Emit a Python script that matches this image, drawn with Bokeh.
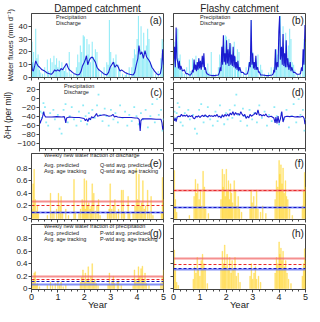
import math
from bokeh.plotting import figure
from bokeh.layouts import column, row
from bokeh.models import Range1d, FixedTicker, Legend, LegendItem, Label
from bokeh.embed import file_html
from bokeh.resources import INLINE

FONT = "Liberation Sans"
AX = "#444444"
TXT = "#222222"
P_COL = "#45DDF2"
P_PT = "#6FE6F5"
Q_COL = "#1B1BD0"
YEL = "#FFD21F"
RED_S = "#F26A6A"
RED_D = "#E8282B"
BLUE_S = "#5A6CF5"
BLUE_D = "#1515C8"

# ---------------- data ----------------
year_ticks = [0, 1, 2, 3, 4, 5]
flux_ticks = [0, 10, 20, 30, 40]
iso_ticks = [-100, -80, -60, -40, -20, 0, 20]
frac_ticks = [0, 0.2, 0.4, 0.6, 0.8]

precip = [(0.02, 28), (0.05, 12), (0.08, 20), (0.12, 8), (0.16, 38), (0.20, 15), (0.25, 18), (0.30, 6),
          (0.35, 4), (0.42, 3), (0.50, 8), (0.60, 14), (0.65, 5), (0.72, 15), (0.78, 12), (0.85, 17),
          (0.90, 10), (0.95, 15), (1.00, 8), (1.05, 13), (1.10, 6), (1.15, 12), (1.20, 8), (1.25, 5),
          (1.30, 11), (1.35, 4), (1.43, 20), (1.50, 3), (1.60, 3), (1.70, 8), (1.75, 18), (1.80, 12),
          (1.85, 25), (1.90, 20), (1.96, 33), (2.00, 32), (2.05, 14), (2.10, 30), (2.14, 18), (2.18, 26),
          (2.23, 12), (2.30, 28), (2.35, 16), (2.42, 22), (2.45, 10), (2.48, 20), (2.55, 6), (2.65, 4),
          (2.75, 8), (2.85, 12), (2.90, 10), (2.95, 45), (3.00, 20), (3.05, 8), (3.10, 15), (3.15, 12),
          (3.20, 18), (3.30, 10), (3.35, 6), (3.45, 3), (3.55, 2), (3.60, 4), (3.70, 8), (3.80, 8),
          (3.85, 15), (3.90, 22), (3.95, 18), (4.00, 30), (4.05, 48), (4.10, 22), (4.15, 40), (4.20, 18),
          (4.25, 35), (4.30, 15), (4.35, 25), (4.40, 38), (4.45, 30), (4.50, 12), (4.55, 10), (4.60, 6),
          (4.70, 3), (4.80, 5), (4.90, 15), (4.95, 30), (4.99, 28)]

q_damped = [(0.00, 12), (0.03, 6), (0.07, 5), (0.12, 9), (0.16, 13), (0.20, 11), (0.25, 9), (0.31, 8),
            (0.40, 6), (0.50, 5), (0.60, 3.5), (0.68, 3), (0.75, 2.5), (0.82, 4), (0.88, 6), (0.93, 5),
            (1.00, 6), (1.06, 5), (1.12, 7), (1.18, 6), (1.24, 8), (1.30, 10), (1.33, 11), (1.38, 8),
            (1.43, 6), (1.50, 5), (1.55, 4), (1.62, 3), (1.68, 2.5), (1.75, 2), (1.82, 2.5), (1.88, 5),
            (1.93, 9), (2.00, 12), (2.04, 14), (2.08, 17), (2.13, 10), (2.18, 13), (2.23, 15), (2.30, 16),
            (2.36, 14), (2.42, 12), (2.48, 8), (2.55, 6), (2.62, 5), (2.73, 3), (2.85, 2), (2.92, 4),
            (2.98, 8), (3.04, 10), (3.10, 12), (3.16, 8), (3.23, 10), (3.29, 8), (3.35, 5), (3.41, 6),
            (3.54, 4), (3.65, 3), (3.72, 2.5), (3.85, 2), (3.91, 4), (3.97, 10), (4.03, 15), (4.07, 25),
            (4.12, 18), (4.18, 20), (4.24, 15), (4.30, 21), (4.36, 16), (4.43, 14), (4.49, 12), (4.56, 8),
            (4.66, 5), (4.74, 3), (4.82, 2), (4.88, 3), (4.93, 8), (4.97, 22), (5.00, 10)]

q_flashy = [(0.00, 10), (0.04, 24), (0.07, 8), (0.10, 39), (0.13, 15), (0.16, 12), (0.19, 7), (0.22, 13),
            (0.25, 6), (0.28, 9), (0.34, 5), (0.41, 6), (0.47, 3), (0.53, 3), (0.60, 2), (0.65, 2),
            (0.70, 4), (0.72, 6), (0.75, 4), (0.78, 14), (0.81, 6), (0.84, 10), (0.87, 5), (0.90, 12),
            (0.93, 6), (0.96, 15), (0.99, 7), (1.02, 13), (1.05, 6), (1.09, 17), (1.12, 8), (1.15, 19),
            (1.18, 6), (1.21, 8), (1.24, 4), (1.27, 3), (1.35, 2), (1.45, 1.5), (1.58, 1.5), (1.70, 2),
            (1.74, 4), (1.77, 8), (1.80, 5), (1.83, 24), (1.86, 10), (1.89, 33), (1.92, 12), (1.95, 19),
            (1.98, 10), (2.01, 29), (2.04, 11), (2.07, 22), (2.10, 9), (2.14, 27), (2.17, 10), (2.20, 18),
            (2.23, 9), (2.26, 24), (2.29, 8), (2.32, 17), (2.35, 7), (2.38, 12), (2.41, 6), (2.44, 13),
            (2.47, 5), (2.51, 8), (2.56, 4), (2.63, 4), (2.70, 2.5), (2.75, 2.5), (2.80, 3), (2.84, 6),
            (2.88, 12), (2.91, 8), (2.94, 45), (2.97, 10), (3.00, 19), (3.03, 7), (3.06, 12), (3.09, 6),
            (3.12, 17), (3.15, 6), (3.19, 8), (3.22, 4), (3.25, 4.5), (3.30, 2), (3.37, 2), (3.50, 1.5),
            (3.62, 1.5), (3.74, 2), (3.78, 3), (3.80, 6), (3.83, 4), (3.86, 22), (3.89, 6), (3.93, 12),
            (3.96, 8), (3.99, 36), (4.02, 48), (4.05, 14), (4.09, 24), (4.12, 10), (4.15, 34), (4.18, 9),
            (4.21, 19), (4.24, 8), (4.27, 29), (4.30, 8), (4.33, 15), (4.37, 6), (4.42, 12), (4.45, 5),
            (4.48, 8), (4.54, 4), (4.60, 4), (4.68, 2.5), (4.75, 2.5), (4.81, 3), (4.85, 8), (4.88, 5),
            (4.91, 22), (4.94, 10), (4.98, 41), (5.00, 30)]

iso_precip = [(0.04, -30), (0.09, -44), (0.12, -33), (0.16, -11), (0.22, -20), (0.27, -54), (0.35, -61),
              (0.43, -33), (0.56, -26), (0.62, -47), (0.74, -37), (0.81, -68), (0.89, -79), (0.97, -26),
              (1.05, -13), (1.14, -54), (1.22, -40), (1.30, -20), (1.39, -47), (1.49, -61), (1.59, -30),
              (1.67, -51), (1.76, -16), (1.86, -40), (1.92, -58), (1.99, -33), (2.05, -47), (2.13, -26),
              (2.23, -44), (2.32, -16), (2.38, 8), (2.44, -37), (2.54, -51), (2.63, -23), (2.70, -40),
              (2.79, -61), (2.88, -26), (2.98, -47), (3.06, -33), (3.16, -54), (3.25, -16), (3.35, -44),
              (3.45, -30), (3.54, -61), (3.62, -37), (3.72, -51), (3.82, -20), (3.91, -40), (4.00, -58),
              (4.09, -33), (4.18, -47), (4.28, -26), (4.37, -65), (4.47, -40), (4.55, -13), (4.65, -54),
              (4.74, -2), (4.81, -37), (4.90, -26), (4.96, -72), (5.00, -47)]

iso_q_damped = [(0.00, -48), (0.03, -56), (0.06, -50), (0.10, -45), (0.13, -40), (0.17, -30), (0.20, -38),
                (0.25, -42), (0.35, -42), (0.50, -42), (0.70, -41), (0.90, -42), (1.00, -41), (1.03, -47),
                (1.06, -55), (1.09, -44), (1.20, -42), (1.40, -43), (1.60, -43), (1.80, -45), (1.85, -50),
                (1.90, -46), (1.95, -52), (2.00, -44), (2.05, -48), (2.10, -41), (2.15, -44), (2.22, -41),
                (2.30, -34), (2.34, -40), (2.40, -39), (2.50, -38), (2.60, -37), (2.70, -38), (2.80, -40),
                (2.90, -39), (2.97, -36), (3.02, -42), (3.08, -40), (3.15, -42), (3.30, -43), (3.50, -43),
                (3.70, -43), (3.85, -44), (3.95, -44), (4.02, -47), (4.06, -73), (4.09, -50), (4.15, -46),
                (4.30, -46), (4.50, -46), (4.70, -47), (4.90, -47), (4.94, -55), (4.97, -70), (5.00, -62)]

iso_q_flashy = [(0.00, -40), (0.03, -50), (0.07, -45), (0.10, -52), (0.14, -42), (0.20, -40), (0.25, -41),
                (0.30, -36), (0.35, -40), (0.40, -38), (0.45, -40), (0.50, -37), (0.55, -42), (0.60, -39),
                (0.65, -41), (0.70, -38), (0.75, -44), (0.80, -46), (0.85, -40), (0.90, -42), (0.95, -39),
                (1.00, -43), (1.05, -40), (1.10, -38), (1.15, -41), (1.20, -37), (1.25, -40), (1.30, -42),
                (1.35, -38), (1.40, -40), (1.45, -39), (1.50, -41), (1.55, -38), (1.60, -40), (1.65, -36),
                (1.70, -42), (1.75, -40), (1.80, -44), (1.85, -37), (1.90, -42), (1.95, -36), (2.00, -40),
                (2.05, -35), (2.10, -40), (2.15, -33), (2.20, -37), (2.25, -30), (2.30, -38), (2.35, -32),
                (2.40, -36), (2.45, -34), (2.50, -38), (2.55, -30), (2.60, -36), (2.65, -40), (2.70, -36),
                (2.75, -45), (2.80, -40), (2.85, -44), (2.90, -36), (2.95, -40), (3.00, -38), (3.05, -36),
                (3.10, -32), (3.15, -37), (3.20, -26), (3.25, -38), (3.30, -36), (3.35, -40), (3.40, -37),
                (3.45, -39), (3.50, -35), (3.55, -40), (3.60, -42), (3.70, -40), (3.80, -44), (3.85, -55),
                (3.88, -42), (3.92, -56), (3.96, -40), (4.00, -55), (4.05, -46), (4.10, -30), (4.15, -53),
                (4.20, -42), (4.30, -40), (4.40, -41), (4.50, -40), (4.60, -42), (4.70, -41), (4.80, -42),
                (4.90, -40), (4.95, -45), (4.98, -58), (5.00, -52)]

nwf_q_damped = [(0.02, 0.15), (0.06, 0.55), (0.10, 0.78), (0.14, 0.30), (0.18, 0.12), (0.22, 0.20), (0.26, 0.08),
                (0.60, 0.05), (0.72, 0.40), (0.78, 0.10), (0.85, 0.12), (0.95, 0.15), (1.02, 0.40), (1.08, 0.20),
                (1.12, 0.35), (1.18, 0.10), (1.30, 0.15), (1.40, 0.05), (1.61, 0.62), (1.66, 0.10), (1.80, 0.08),
                (1.86, 0.15), (1.92, 0.30), (1.96, 0.20), (2.00, 0.63), (2.04, 0.15), (2.08, 0.60), (2.12, 0.20),
                (2.17, 0.25), (2.22, 0.15), (2.26, 0.20), (2.30, 0.55), (2.36, 0.40), (2.42, 0.12), (2.48, 0.20),
                (2.54, 0.30), (2.60, 0.05), (2.88, 0.10), (2.94, 0.15), (2.98, 0.55), (3.04, 0.15), (3.10, 0.20),
                (3.16, 0.30), (3.22, 0.10), (3.30, 0.15), (3.41, 0.45), (3.47, 0.45), (3.52, 0.10), (3.66, 0.35),
                (3.72, 0.08), (3.85, 0.10), (3.92, 0.20), (3.97, 0.80), (4.02, 0.30), (4.07, 0.70), (4.12, 0.20),
                (4.17, 0.25), (4.22, 0.60), (4.27, 0.15), (4.32, 0.20), (4.40, 0.45), (4.46, 0.10), (4.53, 0.35),
                (4.60, 0.05), (4.92, 0.10), (4.96, 0.65), (4.99, 0.30)]

nwf_q_flashy = [(0.03, 0.76), (0.07, 0.30), (0.12, 0.10), (0.60, 0.05), (0.78, 0.35), (0.83, 0.62), (0.87, 0.40),
                (0.92, 0.55), (0.97, 0.30), (1.02, 0.45), (1.07, 0.20), (1.12, 0.75), (1.17, 0.50), (1.22, 0.15),
                (1.32, 0.08), (1.80, 0.30), (1.85, 0.78), (1.88, 0.50), (1.92, 0.70), (1.96, 0.35), (2.00, 0.78),
                (2.04, 0.45), (2.08, 0.60), (2.12, 0.30), (2.16, 0.55), (2.20, 0.40), (2.24, 0.25), (2.30, 0.60),
                (2.35, 0.45), (2.40, 0.20), (2.45, 0.35), (2.50, 0.15), (2.58, 0.10), (2.90, 0.15), (2.94, 0.45),
                (2.98, 0.25), (3.04, 0.35), (3.10, 0.20), (3.15, 0.45), (3.20, 0.15), (3.30, 0.10), (3.38, 0.20),
                (3.50, 0.08), (3.85, 0.30), (3.90, 0.60), (3.95, 0.50), (4.00, 0.92), (4.03, 0.70), (4.07, 0.85),
                (4.11, 0.55), (4.15, 0.80), (4.19, 0.40), (4.24, 0.60), (4.28, 0.35), (4.33, 0.30), (4.40, 0.15),
                (4.50, 0.05), (4.88, 0.20), (4.93, 0.45), (4.97, 0.73), (5.00, 0.50)]

nwf_p_damped = [(0.02, 0.10), (0.06, 0.15), (0.10, 0.25), (0.14, 0.27), (0.18, 0.05), (0.22, 0.08), (0.30, 0.03),
                (0.60, 0.05), (0.72, 0.10), (0.80, 0.05), (0.90, 0.08), (1.00, 0.12), (1.06, 0.05), (1.12, 0.10),
                (1.20, 0.03), (1.30, 0.05), (1.85, 0.10), (1.90, 0.18), (1.95, 0.30), (2.00, 0.10), (2.04, 0.25),
                (2.10, 0.15), (2.15, 0.35), (2.20, 0.10), (2.25, 0.20), (2.30, 0.40), (2.35, 0.10), (2.40, 0.15),
                (2.45, 0.08), (2.52, 0.05), (2.90, 0.06), (2.95, 0.25), (3.00, 0.05), (3.05, 0.10), (3.10, 0.20),
                (3.15, 0.08), (3.25, 0.10), (3.30, 0.12), (3.40, 0.05), (3.85, 0.05), (3.90, 0.30), (3.95, 0.15),
                (4.00, 0.10), (4.05, 0.35), (4.10, 0.20), (4.15, 0.32), (4.20, 0.36), (4.25, 0.15), (4.30, 0.25),
                (4.35, 0.08), (4.45, 0.05), (4.90, 0.08), (4.95, 0.20), (5.00, 0.30)]

nwf_p_flashy = [(0.03, 0.62), (0.07, 0.30), (0.12, 0.10), (0.18, 0.05), (0.75, 0.15), (0.80, 0.35), (0.85, 0.25),
                (0.90, 0.50), (0.95, 0.30), (1.00, 0.20), (1.05, 0.45), (1.10, 0.55), (1.15, 0.40), (1.20, 0.30),
                (1.28, 0.08), (1.80, 0.30), (1.85, 0.60), (1.90, 0.40), (1.94, 0.70), (1.98, 0.35), (2.03, 0.55),
                (2.08, 0.30), (2.13, 0.50), (2.18, 0.25), (2.22, 0.45), (2.28, 0.30), (2.33, 0.50), (2.38, 0.20),
                (2.45, 0.25), (2.52, 0.10), (2.90, 0.20), (2.95, 0.40), (3.00, 0.15), (3.05, 0.25), (3.10, 0.35),
                (3.15, 0.15), (3.22, 0.20), (3.30, 0.10), (3.85, 0.25), (3.90, 0.50), (3.95, 0.40), (4.00, 0.75),
                (4.03, 0.55), (4.07, 0.65), (4.11, 0.45), (4.15, 0.60), (4.20, 0.35), (4.25, 0.45), (4.30, 0.25),
                (4.36, 0.15), (4.45, 0.08), (4.88, 0.20), (4.93, 0.40), (4.97, 0.64), (5.00, 0.45)]

# averages: [damped, flashy]
q_avg_pred = [0.10, 0.18]
q_avg_age = [0.10, 0.17]
q_wtd_pred = [0.27, 0.45]
q_wtd_age = [0.21, 0.445]
p_avg_pred = [0.07, 0.31]
p_avg_age = [0.11, 0.33]
p_wtd_pred = [0.20, 0.49]
p_wtd_age = [0.15, 0.39]


def cols(pairs):
    return [a for a, _ in pairs], [b for _, b in pairs]


# ---------------- layout helpers ----------------
FW = 132
FH = 66


def make_fig(col, row_i, yr, yticks, title=None):
    left = col == 0
    if row_i == 0:
        h, bt, bb = FH + 15, 11, 4
    elif row_i == 3:
        h, bt, bb = FH + 23, 1, 22
    else:
        h, bt, bb = FH + 5, 1, 4
    bl, br = (31, 4) if left else (6, 6)
    kw = {}
    if title:
        kw["title"] = title
    p = figure(width=FW + bl + br, height=h, x_range=Range1d(0, 5), y_range=Range1d(*yr),
               output_backend="svg", toolbar_location=None,
               min_border_left=bl, min_border_right=br, min_border_top=bt, min_border_bottom=bb, **kw)
    if title:
        p.title.text_font = FONT
        p.title.text_font_size = "10px"
        p.title.text_font_style = "normal"
        p.title.text_color = TXT
        p.title.align = "center"
        p.title.standoff = 0
    p.border_fill_color = None
    p.outline_line_color = AX
    p.outline_line_width = 1
    p.grid.visible = False
    for ax in list(p.xaxis) + list(p.yaxis):
        ax.axis_line_color = AX
        ax.major_tick_line_color = AX
        ax.minor_tick_line_color = AX
        ax.major_tick_in = 0
        ax.major_tick_out = 3
        ax.minor_tick_in = 0
        ax.minor_tick_out = 2
        ax.major_label_text_font = FONT
        ax.major_label_text_font_size = "8px"
        ax.major_label_text_color = TXT
        ax.major_label_standoff = 1
        ax.axis_label_text_font = FONT
        ax.axis_label_text_font_style = "normal"
        ax.axis_label_text_color = TXT
        ax.axis_label_standoff = 1
    p.xaxis.ticker = FixedTicker(ticks=year_ticks, minor_ticks=[i / 4 for i in range(21) if i % 4])
    p.yaxis.ticker = FixedTicker(ticks=yticks)
    if not left:
        p.yaxis.major_label_text_color = None
    if row_i < 3:
        p.xaxis.major_label_text_color = None
    else:
        p.xaxis.major_label_text_font_size = "9px"
        p.xaxis.axis_label = "Year"
        p.xaxis.axis_label_text_font_size = "9.5px"
        p.xaxis.axis_label_standoff = -4
    return p


def panel_letter(p, txt, dy=9):
    p.add_layout(Label(x=4.94, y=FH - dy, x_units="data", y_units="screen", text=txt,
                       text_font=FONT, text_font_size="10px", text_color=TXT,
                       text_align="right", text_baseline="middle"))


def make_legend(items, x, y, gw=8, gh=4, lh=6, standoff=2):
    # (x, y): bottom-left corner of the legend, measured from the frame's bottom-left
    return Legend(items=items, location=(x, y), label_text_font=FONT, label_text_font_size="5.5px",
                  label_text_color=TXT, label_height=lh, label_width=10, glyph_width=gw, glyph_height=gh,
                  label_standoff=standoff, spacing=0, padding=0, margin=0,
                  border_line_alpha=0, background_fill_alpha=0)


def fnew_label(p, lead):
    pieces = [(lead, "6px", -27.5, 19.5), ("F", "8.5px", -24, 24.5),
              ("new", "5.5px", -20.5, 30), ("(-)", "8px", -24, 41.5)]
    for txt, fs, x, y in pieces:
        p.add_layout(Label(x=x, y=y, x_units="screen", y_units="screen", text=txt, angle=math.pi / 2,
                           text_font=FONT, text_font_size=fs, text_color=TXT,
                           text_align="left", text_baseline="middle"))


figs = []
pt, pv = cols(precip)
iso_pt, iso_pv = cols(iso_precip)

# ---- row 1: water fluxes ----
for col, (qser, ttl, letter) in enumerate([(q_damped, "Damped catchment", "(a)"),
                                          (q_flashy, "Flashy catchment", "(b)")]):
    p = make_fig(col, 0, (0, 50), flux_ticks, title=ttl)
    p.vbar(x=pt, top=pv, width=0.04, bottom=0, fill_color=P_COL, fill_alpha=0.6, line_color=None)
    qt, qv = cols(qser)
    p.line(qt, qv, line_color=Q_COL, line_width=1.1)
    lp = p.line([], [], line_color=P_COL, line_width=1.5)
    lq = p.line([], [], line_color=Q_COL, line_width=1.5)
    p.add_layout(make_legend([LegendItem(label="Precipitation", renderers=[lp]),
                              LegendItem(label="Discharge", renderers=[lq])], 15 + 2 * col, FH - 15))
    if col == 0:
        p.yaxis.axis_label = "Water fluxes (mm d\u207b\u00b9)"
        p.yaxis.axis_label_text_font_size = "7.5px"
    panel_letter(p, letter)
    figs.append(p)

# ---- row 2: isotopes ----
for col, (iser, letter) in enumerate([(iso_q_damped, "(c)"), (iso_q_flashy, "(d)")]):
    p = make_fig(col, 1, (-112, 35), iso_ticks)
    p.scatter(iso_pt, iso_pv, marker="square", size=1.8, fill_color=P_PT, line_color=None, fill_alpha=0.8)
    it, iv = cols(iser)
    p.line(it, iv, line_color=Q_COL, line_width=1.1)
    if col == 0:
        lp = p.line([], [], line_color=P_COL, line_width=1.5, line_dash="1 1")
        lq = p.line([], [], line_color=Q_COL, line_width=1.5)
        p.add_layout(make_legend([LegendItem(label="Precipitation", renderers=[lp]),
                                  LegendItem(label="Discharge", renderers=[lq])], 15, FH - 13))
        p.yaxis.axis_label = "\u03b4\u00b2H (per mil)"
        p.yaxis.axis_label_text_font_size = "8.5px"
    panel_letter(p, letter, 10)
    figs.append(p)

# ---- rows 3 & 4: new water fractions ----
specs = [
    (2, "Q", "discharge", [nwf_q_damped, nwf_q_flashy], q_avg_pred, q_avg_age, q_wtd_pred, q_wtd_age,
     ["(e)", "(f)"], FH - 5, FH - 21),
    (3, "P", "precipitation", [nwf_p_damped, nwf_p_flashy], p_avg_pred, p_avg_age, p_wtd_pred, p_wtd_age,
     ["(g)", "(h)"], FH - 6, FH - 19),
]
for row_i, lead, word, bars, avg_p, avg_a, wtd_p, wtd_a, letters, y1, y2 in specs:
    for col in range(2):
        p = make_fig(col, row_i, (-0.015, 1.03), frac_ticks)
        p.yaxis.major_label_overrides = {0: "0"}
        bt_, bv_ = cols(bars[col])
        p.vbar(x=bt_, top=bv_, width=0.03, bottom=0, fill_color=YEL, fill_alpha=0.6, line_color=YEL,
               line_alpha=0.6, line_width=0.5)
        p.hspan(y=[wtd_p[col]], line_color=RED_S, line_width=2, line_alpha=0.75)
        p.hspan(y=[wtd_a[col]], line_color=RED_D, line_width=1.2, line_dash="3 2")
        p.hspan(y=[avg_p[col]], line_color=BLUE_S, line_width=2, line_alpha=0.75)
        p.hspan(y=[avg_a[col]], line_color=BLUE_D, line_width=1.2, line_dash="3 2")
        if col == 0:
            ly = p.line([], [], line_color=YEL, line_width=3, line_alpha=0.8)
            lbp = p.line([], [], line_color=BLUE_S, line_width=1.5)
            lba = p.line([], [], line_color=BLUE_D, line_width=1.2, line_dash="2 1")
            lrp = p.line([], [], line_color=RED_S, line_width=1.5)
            lra = p.line([], [], line_color=RED_D, line_width=1.2, line_dash="2 1")
            p.add_layout(make_legend([LegendItem(label="Weekly new water fraction of " + word, renderers=[ly])],
                                     3, y1, gw=9, standoff=1))
            p.add_layout(make_legend([LegendItem(label="Avg. predicted", renderers=[lbp]),
                                      LegendItem(label="Avg. age tracking", renderers=[lba])],
                                     3, y2, gw=9, standoff=1))
            p.add_layout(make_legend([LegendItem(label=lead + "-wtd avg. predicted", renderers=[lrp]),
                                      LegendItem(label=lead + "-wtd avg. age tracking", renderers=[lra])],
                                     59, y2, gw=9, standoff=1))
            fnew_label(p, lead)
        panel_letter(p, letters[col], 10)
        figs.append(p)

layout = column(row(figs[0], figs[1]), row(figs[2], figs[3]),
                row(figs[4], figs[5]), row(figs[6], figs[7]))
open("out.html", "w").write(file_html(layout, INLINE))
